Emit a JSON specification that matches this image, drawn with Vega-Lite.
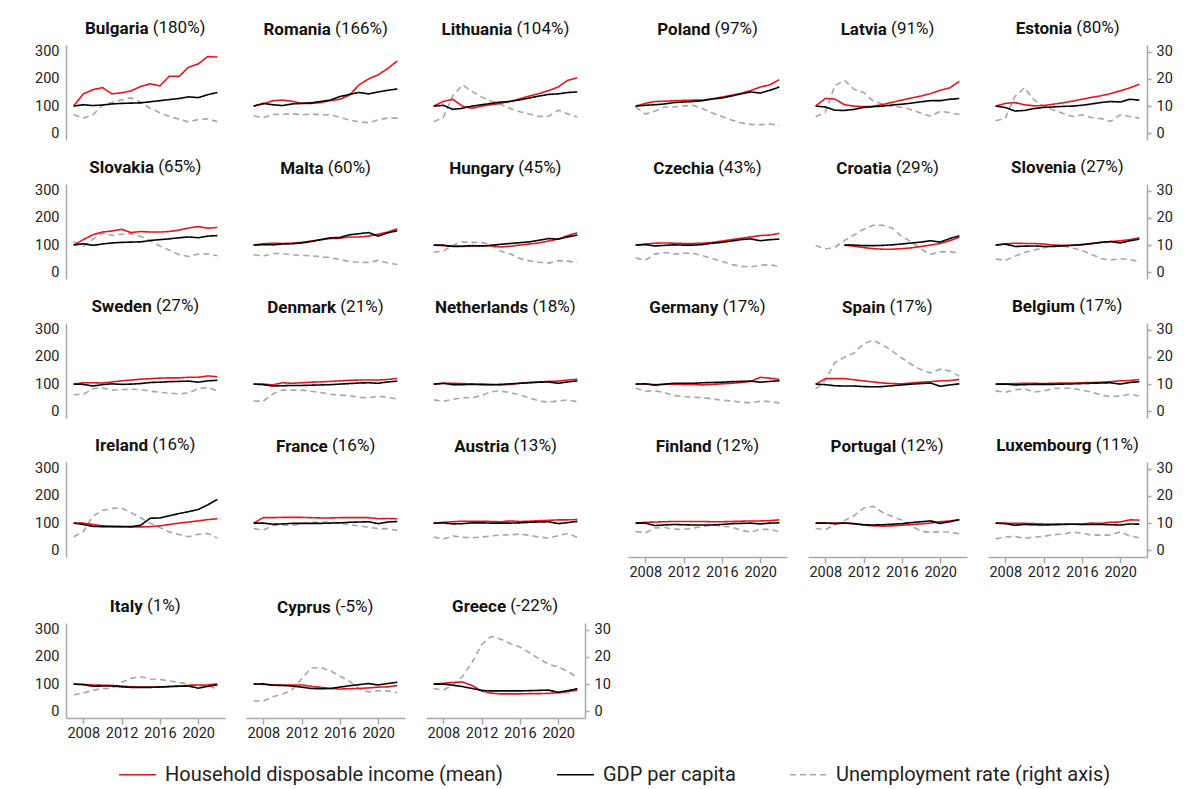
{
"background":"white",
"padding":{"left":34,"top":18,"right":5,"bottom":2},
"data":{"values":[
{"c":"BG","y":2007,"i":100,"g":100,"u":6.9},{"c":"BG","y":2008,"i":145,"g":105,"u":5.6},{"c":"BG","y":2009,"i":160,"g":102,"u":6.8},{"c":"BG","y":2010,"i":168,"g":104,"u":10.3},{"c":"BG","y":2011,"i":145,"g":108,"u":11.3},{"c":"BG","y":2012,"i":149,"g":110,"u":12.3},{"c":"BG","y":2013,"i":156,"g":111,"u":13.0},{"c":"BG","y":2014,"i":172,"g":112,"u":11.4},{"c":"BG","y":2015,"i":182,"g":116,"u":9.2},{"c":"BG","y":2016,"i":174,"g":120,"u":7.6},{"c":"BG","y":2017,"i":210,"g":124,"u":6.2},{"c":"BG","y":2018,"i":209,"g":128,"u":5.2},{"c":"BG","y":2019,"i":243,"g":134,"u":4.2},{"c":"BG","y":2020,"i":255,"g":131,"u":5.1},{"c":"BG","y":2021,"i":282,"g":142,"u":5.3},{"c":"BG","y":2022,"i":280,"g":150,"u":4.3},
{"c":"RO","y":2007,"i":100,"g":100,"u":6.4},{"c":"RO","y":2008,"i":108,"g":110,"u":5.8},{"c":"RO","y":2009,"i":120,"g":105,"u":6.9},{"c":"RO","y":2010,"i":122,"g":102,"u":7.0},{"c":"RO","y":2011,"i":118,"g":108,"u":7.2},{"c":"RO","y":2012,"i":110,"g":110,"u":6.8},{"c":"RO","y":2013,"i":110,"g":112,"u":7.1},{"c":"RO","y":2014,"i":113,"g":117,"u":6.8},{"c":"RO","y":2015,"i":120,"g":122,"u":6.8},{"c":"RO","y":2016,"i":125,"g":135,"u":5.9},{"c":"RO","y":2017,"i":140,"g":143,"u":4.9},{"c":"RO","y":2018,"i":178,"g":150,"u":4.2},{"c":"RO","y":2019,"i":200,"g":145,"u":3.9},{"c":"RO","y":2020,"i":215,"g":152,"u":5.0},{"c":"RO","y":2021,"i":238,"g":158,"u":5.6},{"c":"RO","y":2022,"i":266,"g":163,"u":5.6},
{"c":"LT","y":2007,"i":100,"g":100,"u":4.3},{"c":"LT","y":2008,"i":117,"g":103,"u":5.8},{"c":"LT","y":2009,"i":125,"g":88,"u":13.8},{"c":"LT","y":2010,"i":100,"g":92,"u":17.8},{"c":"LT","y":2011,"i":92,"g":100,"u":15.4},{"c":"LT","y":2012,"i":100,"g":105,"u":13.4},{"c":"LT","y":2013,"i":105,"g":110,"u":11.8},{"c":"LT","y":2014,"i":110,"g":115,"u":10.7},{"c":"LT","y":2015,"i":118,"g":117,"u":9.1},{"c":"LT","y":2016,"i":127,"g":123,"u":7.9},{"c":"LT","y":2017,"i":137,"g":130,"u":7.1},{"c":"LT","y":2018,"i":146,"g":137,"u":6.2},{"c":"LT","y":2019,"i":157,"g":143,"u":6.3},{"c":"LT","y":2020,"i":170,"g":145,"u":8.5},{"c":"LT","y":2021,"i":195,"g":150,"u":7.1},{"c":"LT","y":2022,"i":204,"g":152,"u":6.0},
{"c":"PL","y":2007,"i":100,"g":100,"u":9.6},{"c":"PL","y":2008,"i":110,"g":103,"u":7.1},{"c":"PL","y":2009,"i":117,"g":105,"u":8.1},{"c":"PL","y":2010,"i":118,"g":108,"u":9.7},{"c":"PL","y":2011,"i":120,"g":113,"u":9.7},{"c":"PL","y":2012,"i":121,"g":115,"u":10.1},{"c":"PL","y":2013,"i":122,"g":117,"u":10.3},{"c":"PL","y":2014,"i":122,"g":120,"u":9.0},{"c":"PL","y":2015,"i":127,"g":126,"u":7.5},{"c":"PL","y":2016,"i":133,"g":130,"u":6.2},{"c":"PL","y":2017,"i":140,"g":137,"u":4.9},{"c":"PL","y":2018,"i":147,"g":145,"u":3.9},{"c":"PL","y":2019,"i":157,"g":152,"u":3.3},{"c":"PL","y":2020,"i":170,"g":148,"u":3.2},{"c":"PL","y":2021,"i":178,"g":158,"u":3.4},{"c":"PL","y":2022,"i":197,"g":170,"u":2.9},
{"c":"LV","y":2007,"i":100,"g":100,"u":6.1},{"c":"LV","y":2008,"i":128,"g":97,"u":7.7},{"c":"LV","y":2009,"i":126,"g":85,"u":17.5},{"c":"LV","y":2010,"i":105,"g":84,"u":19.5},{"c":"LV","y":2011,"i":100,"g":88,"u":16.2},{"c":"LV","y":2012,"i":98,"g":95,"u":15.0},{"c":"LV","y":2013,"i":99,"g":98,"u":11.9},{"c":"LV","y":2014,"i":106,"g":100,"u":10.8},{"c":"LV","y":2015,"i":114,"g":104,"u":9.9},{"c":"LV","y":2016,"i":122,"g":107,"u":9.6},{"c":"LV","y":2017,"i":130,"g":111,"u":8.7},{"c":"LV","y":2018,"i":137,"g":116,"u":7.4},{"c":"LV","y":2019,"i":146,"g":120,"u":6.3},{"c":"LV","y":2020,"i":158,"g":120,"u":8.1},{"c":"LV","y":2021,"i":167,"g":125,"u":7.6},{"c":"LV","y":2022,"i":191,"g":128,"u":6.9},
{"c":"EE","y":2007,"i":100,"g":100,"u":4.6},{"c":"EE","y":2008,"i":110,"g":95,"u":5.5},{"c":"EE","y":2009,"i":113,"g":82,"u":13.5},{"c":"EE","y":2010,"i":105,"g":84,"u":16.7},{"c":"EE","y":2011,"i":101,"g":91,"u":12.3},{"c":"EE","y":2012,"i":102,"g":95,"u":10.0},{"c":"EE","y":2013,"i":107,"g":97,"u":8.6},{"c":"EE","y":2014,"i":112,"g":99,"u":7.4},{"c":"EE","y":2015,"i":118,"g":100,"u":6.2},{"c":"EE","y":2016,"i":125,"g":103,"u":6.8},{"c":"EE","y":2017,"i":132,"g":108,"u":5.8},{"c":"EE","y":2018,"i":138,"g":113,"u":5.4},{"c":"EE","y":2019,"i":146,"g":117,"u":4.4},{"c":"EE","y":2020,"i":156,"g":115,"u":6.8},{"c":"EE","y":2021,"i":167,"g":125,"u":6.2},{"c":"EE","y":2022,"i":180,"g":122,"u":5.6},
{"c":"SK","y":2007,"i":100,"g":100,"u":11.2},{"c":"SK","y":2008,"i":120,"g":105,"u":9.6},{"c":"SK","y":2009,"i":138,"g":99,"u":12.1},{"c":"SK","y":2010,"i":148,"g":104,"u":14.4},{"c":"SK","y":2011,"i":152,"g":108,"u":13.6},{"c":"SK","y":2012,"i":158,"g":110,"u":14.0},{"c":"SK","y":2013,"i":146,"g":111,"u":14.2},{"c":"SK","y":2014,"i":150,"g":112,"u":13.2},{"c":"SK","y":2015,"i":148,"g":117,"u":11.5},{"c":"SK","y":2016,"i":148,"g":120,"u":9.7},{"c":"SK","y":2017,"i":150,"g":123,"u":8.1},{"c":"SK","y":2018,"i":155,"g":127,"u":6.5},{"c":"SK","y":2019,"i":163,"g":130,"u":5.8},{"c":"SK","y":2020,"i":168,"g":127,"u":6.7},{"c":"SK","y":2021,"i":162,"g":133,"u":6.8},{"c":"SK","y":2022,"i":165,"g":135,"u":6.1},
{"c":"MT","y":2007,"i":100,"g":100,"u":6.5},{"c":"MT","y":2008,"i":105,"g":102,"u":6.0},{"c":"MT","y":2009,"i":107,"g":101,"u":6.9},{"c":"MT","y":2010,"i":106,"g":104,"u":6.9},{"c":"MT","y":2011,"i":107,"g":105,"u":6.4},{"c":"MT","y":2012,"i":110,"g":108,"u":6.2},{"c":"MT","y":2013,"i":115,"g":113,"u":6.1},{"c":"MT","y":2014,"i":120,"g":120,"u":5.7},{"c":"MT","y":2015,"i":124,"g":127,"u":5.4},{"c":"MT","y":2016,"i":125,"g":128,"u":4.7},{"c":"MT","y":2017,"i":130,"g":138,"u":4.0},{"c":"MT","y":2018,"i":130,"g":142,"u":3.7},{"c":"MT","y":2019,"i":133,"g":146,"u":3.6},{"c":"MT","y":2020,"i":140,"g":133,"u":4.4},{"c":"MT","y":2021,"i":148,"g":145,"u":3.4},{"c":"MT","y":2022,"i":160,"g":153,"u":2.9},
{"c":"HU","y":2007,"i":100,"g":100,"u":7.4},{"c":"HU","y":2008,"i":98,"g":100,"u":7.8},{"c":"HU","y":2009,"i":96,"g":95,"u":10.0},{"c":"HU","y":2010,"i":95,"g":96,"u":11.2},{"c":"HU","y":2011,"i":97,"g":98,"u":11.0},{"c":"HU","y":2012,"i":97,"g":97,"u":11.0},{"c":"HU","y":2013,"i":98,"g":99,"u":10.2},{"c":"HU","y":2014,"i":93,"g":103,"u":7.7},{"c":"HU","y":2015,"i":96,"g":106,"u":6.8},{"c":"HU","y":2016,"i":100,"g":109,"u":5.1},{"c":"HU","y":2017,"i":104,"g":112,"u":4.2},{"c":"HU","y":2018,"i":108,"g":118,"u":3.7},{"c":"HU","y":2019,"i":115,"g":124,"u":3.4},{"c":"HU","y":2020,"i":122,"g":122,"u":4.3},{"c":"HU","y":2021,"i":135,"g":130,"u":4.1},{"c":"HU","y":2022,"i":145,"g":137,"u":3.6},
{"c":"CZ","y":2007,"i":100,"g":100,"u":5.3},{"c":"CZ","y":2008,"i":104,"g":102,"u":4.4},{"c":"CZ","y":2009,"i":107,"g":97,"u":6.7},{"c":"CZ","y":2010,"i":108,"g":99,"u":7.3},{"c":"CZ","y":2011,"i":107,"g":101,"u":6.7},{"c":"CZ","y":2012,"i":106,"g":100,"u":7.0},{"c":"CZ","y":2013,"i":106,"g":100,"u":7.0},{"c":"CZ","y":2014,"i":107,"g":102,"u":6.1},{"c":"CZ","y":2015,"i":110,"g":107,"u":5.1},{"c":"CZ","y":2016,"i":115,"g":110,"u":4.0},{"c":"CZ","y":2017,"i":120,"g":115,"u":2.9},{"c":"CZ","y":2018,"i":125,"g":120,"u":2.2},{"c":"CZ","y":2019,"i":130,"g":123,"u":2.0},{"c":"CZ","y":2020,"i":135,"g":116,"u":2.6},{"c":"CZ","y":2021,"i":137,"g":120,"u":2.8},{"c":"CZ","y":2022,"i":143,"g":122,"u":2.2},
{"c":"HR","y":2007,"i":null,"g":null,"u":9.9},{"c":"HR","y":2008,"i":null,"g":null,"u":8.6},{"c":"HR","y":2009,"i":null,"g":null,"u":9.2},{"c":"HR","y":2010,"i":100,"g":100,"u":11.7},{"c":"HR","y":2011,"i":96,"g":100,"u":13.7},{"c":"HR","y":2012,"i":91,"g":98,"u":15.8},{"c":"HR","y":2013,"i":87,"g":98,"u":17.3},{"c":"HR","y":2014,"i":85,"g":99,"u":17.3},{"c":"HR","y":2015,"i":85,"g":101,"u":16.2},{"c":"HR","y":2016,"i":87,"g":104,"u":13.1},{"c":"HR","y":2017,"i":90,"g":108,"u":11.2},{"c":"HR","y":2018,"i":95,"g":111,"u":8.5},{"c":"HR","y":2019,"i":100,"g":116,"u":6.6},{"c":"HR","y":2020,"i":106,"g":111,"u":7.5},{"c":"HR","y":2021,"i":116,"g":124,"u":7.6},{"c":"HR","y":2022,"i":129,"g":134,"u":7.0},
{"c":"SI","y":2007,"i":100,"g":100,"u":4.9},{"c":"SI","y":2008,"i":104,"g":104,"u":4.4},{"c":"SI","y":2009,"i":107,"g":95,"u":5.9},{"c":"SI","y":2010,"i":106,"g":96,"u":7.3},{"c":"SI","y":2011,"i":106,"g":97,"u":8.2},{"c":"SI","y":2012,"i":104,"g":95,"u":8.9},{"c":"SI","y":2013,"i":100,"g":95,"u":10.1},{"c":"SI","y":2014,"i":99,"g":97,"u":9.7},{"c":"SI","y":2015,"i":100,"g":99,"u":9.0},{"c":"SI","y":2016,"i":101,"g":102,"u":8.0},{"c":"SI","y":2017,"i":105,"g":106,"u":6.6},{"c":"SI","y":2018,"i":110,"g":110,"u":5.1},{"c":"SI","y":2019,"i":113,"g":113,"u":4.5},{"c":"SI","y":2020,"i":116,"g":108,"u":5.0},{"c":"SI","y":2021,"i":120,"g":116,"u":4.7},{"c":"SI","y":2022,"i":127,"g":122,"u":4.0},
{"c":"SE","y":2007,"i":100,"g":100,"u":6.1},{"c":"SE","y":2008,"i":105,"g":99,"u":6.2},{"c":"SE","y":2009,"i":105,"g":93,"u":8.3},{"c":"SE","y":2010,"i":104,"g":98,"u":8.6},{"c":"SE","y":2011,"i":108,"g":101,"u":7.8},{"c":"SE","y":2012,"i":112,"g":99,"u":8.0},{"c":"SE","y":2013,"i":115,"g":100,"u":8.1},{"c":"SE","y":2014,"i":118,"g":102,"u":8.0},{"c":"SE","y":2015,"i":120,"g":106,"u":7.4},{"c":"SE","y":2016,"i":122,"g":107,"u":7.0},{"c":"SE","y":2017,"i":123,"g":109,"u":6.7},{"c":"SE","y":2018,"i":123,"g":110,"u":6.4},{"c":"SE","y":2019,"i":125,"g":111,"u":6.8},{"c":"SE","y":2020,"i":125,"g":107,"u":8.3},{"c":"SE","y":2021,"i":130,"g":112,"u":8.8},{"c":"SE","y":2022,"i":127,"g":114,"u":7.5},
{"c":"DK","y":2007,"i":100,"g":100,"u":3.8},{"c":"DK","y":2008,"i":100,"g":98,"u":3.7},{"c":"DK","y":2009,"i":97,"g":93,"u":6.4},{"c":"DK","y":2010,"i":105,"g":94,"u":7.8},{"c":"DK","y":2011,"i":103,"g":95,"u":7.8},{"c":"DK","y":2012,"i":105,"g":95,"u":7.8},{"c":"DK","y":2013,"i":107,"g":96,"u":7.4},{"c":"DK","y":2014,"i":108,"g":97,"u":6.9},{"c":"DK","y":2015,"i":110,"g":98,"u":6.3},{"c":"DK","y":2016,"i":112,"g":100,"u":6.0},{"c":"DK","y":2017,"i":114,"g":102,"u":5.8},{"c":"DK","y":2018,"i":115,"g":104,"u":5.1},{"c":"DK","y":2019,"i":115,"g":105,"u":5.0},{"c":"DK","y":2020,"i":115,"g":103,"u":5.6},{"c":"DK","y":2021,"i":117,"g":108,"u":5.1},{"c":"DK","y":2022,"i":121,"g":111,"u":4.5},
{"c":"NL","y":2007,"i":100,"g":100,"u":4.2},{"c":"NL","y":2008,"i":103,"g":103,"u":3.7},{"c":"NL","y":2009,"i":103,"g":98,"u":4.4},{"c":"NL","y":2010,"i":102,"g":98,"u":5.0},{"c":"NL","y":2011,"i":101,"g":99,"u":5.0},{"c":"NL","y":2012,"i":100,"g":98,"u":5.8},{"c":"NL","y":2013,"i":98,"g":98,"u":7.3},{"c":"NL","y":2014,"i":97,"g":99,"u":7.4},{"c":"NL","y":2015,"i":99,"g":101,"u":6.9},{"c":"NL","y":2016,"i":103,"g":103,"u":6.0},{"c":"NL","y":2017,"i":106,"g":105,"u":4.9},{"c":"NL","y":2018,"i":108,"g":107,"u":3.8},{"c":"NL","y":2019,"i":110,"g":108,"u":3.4},{"c":"NL","y":2020,"i":111,"g":103,"u":3.8},{"c":"NL","y":2021,"i":115,"g":108,"u":4.2},{"c":"NL","y":2022,"i":118,"g":112,"u":3.5},
{"c":"DE","y":2007,"i":100,"g":100,"u":8.5},{"c":"DE","y":2008,"i":101,"g":101,"u":7.4},{"c":"DE","y":2009,"i":98,"g":96,"u":7.6},{"c":"DE","y":2010,"i":99,"g":100,"u":6.9},{"c":"DE","y":2011,"i":100,"g":103,"u":5.8},{"c":"DE","y":2012,"i":99,"g":103,"u":5.4},{"c":"DE","y":2013,"i":99,"g":103,"u":5.2},{"c":"DE","y":2014,"i":97,"g":105,"u":5.0},{"c":"DE","y":2015,"i":99,"g":106,"u":4.6},{"c":"DE","y":2016,"i":101,"g":107,"u":4.1},{"c":"DE","y":2017,"i":103,"g":109,"u":3.8},{"c":"DE","y":2018,"i":106,"g":110,"u":3.4},{"c":"DE","y":2019,"i":110,"g":111,"u":3.1},{"c":"DE","y":2020,"i":125,"g":107,"u":3.7},{"c":"DE","y":2021,"i":122,"g":110,"u":3.6},{"c":"DE","y":2022,"i":117,"g":112,"u":3.1},
{"c":"ES","y":2007,"i":100,"g":100,"u":8.2},{"c":"ES","y":2008,"i":120,"g":98,"u":11.3},{"c":"ES","y":2009,"i":120,"g":94,"u":17.9},{"c":"ES","y":2010,"i":120,"g":93,"u":19.9},{"c":"ES","y":2011,"i":116,"g":93,"u":21.4},{"c":"ES","y":2012,"i":112,"g":91,"u":24.8},{"c":"ES","y":2013,"i":108,"g":90,"u":26.1},{"c":"ES","y":2014,"i":104,"g":91,"u":24.4},{"c":"ES","y":2015,"i":102,"g":94,"u":22.1},{"c":"ES","y":2016,"i":101,"g":97,"u":19.6},{"c":"ES","y":2017,"i":104,"g":100,"u":17.2},{"c":"ES","y":2018,"i":107,"g":102,"u":15.3},{"c":"ES","y":2019,"i":109,"g":104,"u":14.1},{"c":"ES","y":2020,"i":112,"g":92,"u":15.5},{"c":"ES","y":2021,"i":113,"g":97,"u":14.8},{"c":"ES","y":2022,"i":117,"g":101,"u":12.9},
{"c":"BE","y":2007,"i":100,"g":100,"u":7.5},{"c":"BE","y":2008,"i":101,"g":100,"u":7.0},{"c":"BE","y":2009,"i":102,"g":97,"u":7.9},{"c":"BE","y":2010,"i":103,"g":98,"u":8.3},{"c":"BE","y":2011,"i":103,"g":99,"u":7.1},{"c":"BE","y":2012,"i":102,"g":99,"u":7.5},{"c":"BE","y":2013,"i":103,"g":99,"u":8.4},{"c":"BE","y":2014,"i":104,"g":100,"u":8.5},{"c":"BE","y":2015,"i":104,"g":101,"u":8.5},{"c":"BE","y":2016,"i":105,"g":102,"u":7.8},{"c":"BE","y":2017,"i":106,"g":103,"u":7.1},{"c":"BE","y":2018,"i":107,"g":104,"u":6.0},{"c":"BE","y":2019,"i":109,"g":105,"u":5.4},{"c":"BE","y":2020,"i":112,"g":100,"u":5.6},{"c":"BE","y":2021,"i":113,"g":106,"u":6.3},{"c":"BE","y":2022,"i":117,"g":109,"u":5.6},
{"c":"IE","y":2007,"i":100,"g":100,"u":5.0},{"c":"IE","y":2008,"i":100,"g":95,"u":6.8},{"c":"IE","y":2009,"i":95,"g":88,"u":12.6},{"c":"IE","y":2010,"i":90,"g":87,"u":14.6},{"c":"IE","y":2011,"i":88,"g":87,"u":15.4},{"c":"IE","y":2012,"i":87,"g":87,"u":15.5},{"c":"IE","y":2013,"i":86,"g":87,"u":13.8},{"c":"IE","y":2014,"i":86,"g":92,"u":11.9},{"c":"IE","y":2015,"i":87,"g":118,"u":10.0},{"c":"IE","y":2016,"i":90,"g":119,"u":8.4},{"c":"IE","y":2017,"i":95,"g":127,"u":6.7},{"c":"IE","y":2018,"i":100,"g":135,"u":5.8},{"c":"IE","y":2019,"i":104,"g":142,"u":5.0},{"c":"IE","y":2020,"i":108,"g":150,"u":5.9},{"c":"IE","y":2021,"i":113,"g":167,"u":6.2},{"c":"IE","y":2022,"i":116,"g":187,"u":4.5},
{"c":"FR","y":2007,"i":100,"g":100,"u":8.0},{"c":"FR","y":2008,"i":120,"g":100,"u":7.4},{"c":"FR","y":2009,"i":120,"g":96,"u":9.1},{"c":"FR","y":2010,"i":121,"g":97,"u":9.3},{"c":"FR","y":2011,"i":121,"g":99,"u":9.2},{"c":"FR","y":2012,"i":121,"g":99,"u":9.8},{"c":"FR","y":2013,"i":120,"g":99,"u":10.3},{"c":"FR","y":2014,"i":119,"g":99,"u":10.3},{"c":"FR","y":2015,"i":119,"g":100,"u":10.4},{"c":"FR","y":2016,"i":120,"g":101,"u":10.0},{"c":"FR","y":2017,"i":120,"g":103,"u":9.4},{"c":"FR","y":2018,"i":120,"g":104,"u":9.0},{"c":"FR","y":2019,"i":120,"g":105,"u":8.4},{"c":"FR","y":2020,"i":116,"g":98,"u":8.0},{"c":"FR","y":2021,"i":117,"g":104,"u":7.9},{"c":"FR","y":2022,"i":116,"g":106,"u":7.3},
{"c":"AT","y":2007,"i":100,"g":100,"u":4.9},{"c":"AT","y":2008,"i":103,"g":101,"u":4.1},{"c":"AT","y":2009,"i":105,"g":97,"u":5.3},{"c":"AT","y":2010,"i":107,"g":98,"u":4.8},{"c":"AT","y":2011,"i":107,"g":101,"u":4.6},{"c":"AT","y":2012,"i":107,"g":101,"u":4.9},{"c":"AT","y":2013,"i":106,"g":100,"u":5.3},{"c":"AT","y":2014,"i":105,"g":100,"u":5.6},{"c":"AT","y":2015,"i":108,"g":100,"u":5.7},{"c":"AT","y":2016,"i":106,"g":101,"u":6.0},{"c":"AT","y":2017,"i":107,"g":103,"u":5.5},{"c":"AT","y":2018,"i":109,"g":104,"u":4.9},{"c":"AT","y":2019,"i":110,"g":105,"u":4.5},{"c":"AT","y":2020,"i":112,"g":98,"u":5.4},{"c":"AT","y":2021,"i":112,"g":102,"u":6.2},{"c":"AT","y":2022,"i":113,"g":106,"u":4.8},
{"c":"FI","y":2007,"i":100,"g":100,"u":6.9},{"c":"FI","y":2008,"i":103,"g":100,"u":6.4},{"c":"FI","y":2009,"i":104,"g":91,"u":8.2},{"c":"FI","y":2010,"i":105,"g":93,"u":8.4},{"c":"FI","y":2011,"i":106,"g":95,"u":7.8},{"c":"FI","y":2012,"i":106,"g":94,"u":7.7},{"c":"FI","y":2013,"i":106,"g":93,"u":8.2},{"c":"FI","y":2014,"i":106,"g":93,"u":8.7},{"c":"FI","y":2015,"i":105,"g":93,"u":9.4},{"c":"FI","y":2016,"i":105,"g":95,"u":8.8},{"c":"FI","y":2017,"i":106,"g":98,"u":8.6},{"c":"FI","y":2018,"i":107,"g":99,"u":7.4},{"c":"FI","y":2019,"i":108,"g":100,"u":6.7},{"c":"FI","y":2020,"i":108,"g":97,"u":7.7},{"c":"FI","y":2021,"i":109,"g":100,"u":7.7},{"c":"FI","y":2022,"i":112,"g":101,"u":6.8},
{"c":"PT","y":2007,"i":100,"g":100,"u":8.0},{"c":"PT","y":2008,"i":100,"g":100,"u":7.6},{"c":"PT","y":2009,"i":100,"g":98,"u":9.4},{"c":"PT","y":2010,"i":101,"g":100,"u":11.0},{"c":"PT","y":2011,"i":98,"g":98,"u":12.7},{"c":"PT","y":2012,"i":93,"g":94,"u":15.5},{"c":"PT","y":2013,"i":90,"g":93,"u":16.2},{"c":"PT","y":2014,"i":89,"g":94,"u":13.9},{"c":"PT","y":2015,"i":90,"g":96,"u":12.4},{"c":"PT","y":2016,"i":92,"g":98,"u":11.1},{"c":"PT","y":2017,"i":95,"g":102,"u":8.9},{"c":"PT","y":2018,"i":97,"g":105,"u":7.1},{"c":"PT","y":2019,"i":100,"g":108,"u":6.5},{"c":"PT","y":2020,"i":105,"g":99,"u":6.9},{"c":"PT","y":2021,"i":108,"g":105,"u":6.6},{"c":"PT","y":2022,"i":112,"g":113,"u":6.1},
{"c":"LU","y":2007,"i":100,"g":100,"u":4.2},{"c":"LU","y":2008,"i":100,"g":98,"u":4.9},{"c":"LU","y":2009,"i":99,"g":92,"u":5.1},{"c":"LU","y":2010,"i":99,"g":95,"u":4.4},{"c":"LU","y":2011,"i":98,"g":94,"u":4.9},{"c":"LU","y":2012,"i":97,"g":93,"u":5.1},{"c":"LU","y":2013,"i":97,"g":94,"u":5.8},{"c":"LU","y":2014,"i":96,"g":95,"u":5.9},{"c":"LU","y":2015,"i":97,"g":96,"u":6.7},{"c":"LU","y":2016,"i":97,"g":95,"u":6.3},{"c":"LU","y":2017,"i":100,"g":95,"u":5.6},{"c":"LU","y":2018,"i":99,"g":95,"u":5.6},{"c":"LU","y":2019,"i":103,"g":94,"u":5.6},{"c":"LU","y":2020,"i":104,"g":93,"u":6.8},{"c":"LU","y":2021,"i":112,"g":97,"u":5.3},{"c":"LU","y":2022,"i":111,"g":96,"u":4.6},
{"c":"IT","y":2007,"i":100,"g":100,"u":6.1},{"c":"IT","y":2008,"i":99,"g":98,"u":6.7},{"c":"IT","y":2009,"i":97,"g":92,"u":7.7},{"c":"IT","y":2010,"i":96,"g":93,"u":8.4},{"c":"IT","y":2011,"i":95,"g":93,"u":8.4},{"c":"IT","y":2012,"i":93,"g":90,"u":10.7},{"c":"IT","y":2013,"i":90,"g":88,"u":12.1},{"c":"IT","y":2014,"i":89,"g":88,"u":12.7},{"c":"IT","y":2015,"i":89,"g":88,"u":11.9},{"c":"IT","y":2016,"i":90,"g":89,"u":11.7},{"c":"IT","y":2017,"i":91,"g":91,"u":11.2},{"c":"IT","y":2018,"i":93,"g":92,"u":10.6},{"c":"IT","y":2019,"i":95,"g":93,"u":10.0},{"c":"IT","y":2020,"i":97,"g":85,"u":9.3},{"c":"IT","y":2021,"i":97,"g":92,"u":9.5},{"c":"IT","y":2022,"i":101,"g":97,"u":8.1},
{"c":"CY","y":2007,"i":100,"g":100,"u":3.9},{"c":"CY","y":2008,"i":99,"g":101,"u":3.7},{"c":"CY","y":2009,"i":97,"g":96,"u":5.4},{"c":"CY","y":2010,"i":97,"g":95,"u":6.3},{"c":"CY","y":2011,"i":97,"g":93,"u":7.9},{"c":"CY","y":2012,"i":97,"g":89,"u":11.9},{"c":"CY","y":2013,"i":92,"g":84,"u":15.9},{"c":"CY","y":2014,"i":88,"g":83,"u":16.1},{"c":"CY","y":2015,"i":84,"g":84,"u":14.9},{"c":"CY","y":2016,"i":82,"g":89,"u":13.0},{"c":"CY","y":2017,"i":83,"g":94,"u":11.1},{"c":"CY","y":2018,"i":84,"g":98,"u":8.4},{"c":"CY","y":2019,"i":86,"g":102,"u":7.1},{"c":"CY","y":2020,"i":89,"g":97,"u":7.6},{"c":"CY","y":2021,"i":90,"g":102,"u":7.5},{"c":"CY","y":2022,"i":95,"g":107,"u":6.8},
{"c":"GR","y":2007,"i":100,"g":100,"u":8.4},{"c":"GR","y":2008,"i":103,"g":100,"u":7.8},{"c":"GR","y":2009,"i":106,"g":96,"u":9.6},{"c":"GR","y":2010,"i":108,"g":91,"u":12.7},{"c":"GR","y":2011,"i":95,"g":84,"u":17.9},{"c":"GR","y":2012,"i":75,"g":77,"u":24.5},{"c":"GR","y":2013,"i":67,"g":75,"u":27.5},{"c":"GR","y":2014,"i":64,"g":75,"u":26.5},{"c":"GR","y":2015,"i":64,"g":75,"u":24.9},{"c":"GR","y":2016,"i":64,"g":75,"u":23.6},{"c":"GR","y":2017,"i":65,"g":76,"u":21.5},{"c":"GR","y":2018,"i":65,"g":77,"u":19.3},{"c":"GR","y":2019,"i":66,"g":78,"u":17.3},{"c":"GR","y":2020,"i":68,"g":70,"u":16.3},{"c":"GR","y":2021,"i":72,"g":76,"u":14.7},{"c":"GR","y":2022,"i":78,"g":83,"u":12.4}
]},
"spacing":17,
"vconcat":[
{"spacing":43,"hconcat":[
 {"spacing":21,"hconcat":[
  {"title":{"text":"(180%)","anchor":"middle","fontWeight":"normal","align":"left","frame":"bounds","offset":-17,"dx":22.9},"vconcat":[{"title":{"text":"Bulgaria","align":"right","dx":3},"transform":[{"filter":"datum.c=='BG'"},{"fold":["i","g","u"],"as":["s","v"]}],"encoding":{"x":{"field":"y","type":"quantitative","title":null,"scale":{"domain":[2006.2,2022.8],"nice":false,"zero":false},"axis":null},"color":{"field":"s","type":"nominal","title":null,"scale":{"domain":["i","g","u"],"range":["#e8141c","#000000","#a6a6a6"]},"legend":{"orient":"none","legendX":52,"legendY":710,"labelExpr":"datum.label=='i'?'Household disposable income (mean)':datum.label=='g'?'GDP per capita':'Unemployment rate (right axis)'"}},"strokeDash":{"field":"s","type":"nominal","title":null,"scale":{"domain":["i","g","u"],"range":[[1,0],[1,0],[6,4]]},"legend":{"orient":"none","legendX":52,"legendY":710,"labelExpr":"datum.label=='i'?'Household disposable income (mean)':datum.label=='g'?'GDP per capita':'Unemployment rate (right axis)'"}}},"layer":[{"transform":[{"filter":"datum.s=='u'"}],"mark":"line","encoding":{"y":{"field":"v","type":"quantitative","title":null,"scale":{"domain":[-2.45,32.45],"nice":false,"zero":false},"axis":null}}},{"transform":[{"filter":"datum.s!='u'"}],"mark":"line","encoding":{"y":{"field":"v","type":"quantitative","title":null,"scale":{"domain":[-24.5,324.5],"nice":false,"zero":false},"axis":{"orient":"left","values":[0,100,200,300],"ticks":false,"labelPadding":7}}}}],"resolve":{"scale":{"y":"independent"}}}]},
  {"title":{"text":"(166%)","anchor":"middle","fontWeight":"normal","align":"left","frame":"bounds","offset":-17,"dx":9.6},"vconcat":[{"title":{"text":"Romania","align":"right","dx":5.4},"transform":[{"filter":"datum.c=='RO'"},{"fold":["i","g","u"],"as":["s","v"]}],"encoding":{"x":{"field":"y","type":"quantitative","title":null,"scale":{"domain":[2006.2,2022.8],"nice":false,"zero":false},"axis":null},"color":{"field":"s","type":"nominal","title":null,"scale":{"domain":["i","g","u"],"range":["#e8141c","#000000","#a6a6a6"]},"legend":{"orient":"none","legendX":52,"legendY":710,"labelExpr":"datum.label=='i'?'Household disposable income (mean)':datum.label=='g'?'GDP per capita':'Unemployment rate (right axis)'"}},"strokeDash":{"field":"s","type":"nominal","title":null,"scale":{"domain":["i","g","u"],"range":[[1,0],[1,0],[6,4]]},"legend":{"orient":"none","legendX":52,"legendY":710,"labelExpr":"datum.label=='i'?'Household disposable income (mean)':datum.label=='g'?'GDP per capita':'Unemployment rate (right axis)'"}}},"layer":[{"transform":[{"filter":"datum.s=='u'"}],"mark":"line","encoding":{"y":{"field":"v","type":"quantitative","title":null,"scale":{"domain":[-2.45,32.45],"nice":false,"zero":false},"axis":null}}},{"transform":[{"filter":"datum.s!='u'"}],"mark":"line","encoding":{"y":{"field":"v","type":"quantitative","title":null,"scale":{"domain":[-24.5,324.5],"nice":false,"zero":false},"axis":{"orient":"left","values":[0,100,200,300],"labels":false,"domain":false,"ticks":false}}}}],"resolve":{"scale":{"y":"independent"}}}]},
  {"title":{"text":"(104%)","anchor":"middle","fontWeight":"normal","align":"left","frame":"bounds","offset":-17,"dx":11.0},"vconcat":[{"title":{"text":"Lithuania","align":"right","dx":6.8},"transform":[{"filter":"datum.c=='LT'"},{"fold":["i","g","u"],"as":["s","v"]}],"encoding":{"x":{"field":"y","type":"quantitative","title":null,"scale":{"domain":[2006.2,2022.8],"nice":false,"zero":false},"axis":null},"color":{"field":"s","type":"nominal","title":null,"scale":{"domain":["i","g","u"],"range":["#e8141c","#000000","#a6a6a6"]},"legend":{"orient":"none","legendX":52,"legendY":710,"labelExpr":"datum.label=='i'?'Household disposable income (mean)':datum.label=='g'?'GDP per capita':'Unemployment rate (right axis)'"}},"strokeDash":{"field":"s","type":"nominal","title":null,"scale":{"domain":["i","g","u"],"range":[[1,0],[1,0],[6,4]]},"legend":{"orient":"none","legendX":52,"legendY":710,"labelExpr":"datum.label=='i'?'Household disposable income (mean)':datum.label=='g'?'GDP per capita':'Unemployment rate (right axis)'"}}},"layer":[{"transform":[{"filter":"datum.s=='u'"}],"mark":"line","encoding":{"y":{"field":"v","type":"quantitative","title":null,"scale":{"domain":[-2.45,32.45],"nice":false,"zero":false},"axis":null}}},{"transform":[{"filter":"datum.s!='u'"}],"mark":"line","encoding":{"y":{"field":"v","type":"quantitative","title":null,"scale":{"domain":[-24.5,324.5],"nice":false,"zero":false},"axis":{"orient":"left","values":[0,100,200,300],"labels":false,"domain":false,"ticks":false}}}}],"resolve":{"scale":{"y":"independent"}}}]}
 ]},
 {"spacing":21,"hconcat":[
  {"title":{"text":"(97%)","anchor":"middle","fontWeight":"normal","align":"left","frame":"bounds","offset":-17,"dx":7.1},"vconcat":[{"title":{"text":"Poland","align":"right","dx":2.9},"transform":[{"filter":"datum.c=='PL'"},{"fold":["i","g","u"],"as":["s","v"]}],"encoding":{"x":{"field":"y","type":"quantitative","title":null,"scale":{"domain":[2006.2,2022.8],"nice":false,"zero":false},"axis":null},"color":{"field":"s","type":"nominal","title":null,"scale":{"domain":["i","g","u"],"range":["#e8141c","#000000","#a6a6a6"]},"legend":{"orient":"none","legendX":52,"legendY":710,"labelExpr":"datum.label=='i'?'Household disposable income (mean)':datum.label=='g'?'GDP per capita':'Unemployment rate (right axis)'"}},"strokeDash":{"field":"s","type":"nominal","title":null,"scale":{"domain":["i","g","u"],"range":[[1,0],[1,0],[6,4]]},"legend":{"orient":"none","legendX":52,"legendY":710,"labelExpr":"datum.label=='i'?'Household disposable income (mean)':datum.label=='g'?'GDP per capita':'Unemployment rate (right axis)'"}}},"layer":[{"transform":[{"filter":"datum.s=='u'"}],"mark":"line","encoding":{"y":{"field":"v","type":"quantitative","title":null,"scale":{"domain":[-2.45,32.45],"nice":false,"zero":false},"axis":null}}},{"transform":[{"filter":"datum.s!='u'"}],"mark":"line","encoding":{"y":{"field":"v","type":"quantitative","title":null,"scale":{"domain":[-24.5,324.5],"nice":false,"zero":false},"axis":{"orient":"left","values":[0,100,200,300],"labels":false,"domain":false,"ticks":false}}}}],"resolve":{"scale":{"y":"independent"}}}]},
  {"title":{"text":"(91%)","anchor":"middle","fontWeight":"normal","align":"left","frame":"bounds","offset":-17,"dx":3.6},"vconcat":[{"title":{"text":"Latvia","align":"right","dx":-0.6},"transform":[{"filter":"datum.c=='LV'"},{"fold":["i","g","u"],"as":["s","v"]}],"encoding":{"x":{"field":"y","type":"quantitative","title":null,"scale":{"domain":[2006.2,2022.8],"nice":false,"zero":false},"axis":null},"color":{"field":"s","type":"nominal","title":null,"scale":{"domain":["i","g","u"],"range":["#e8141c","#000000","#a6a6a6"]},"legend":{"orient":"none","legendX":52,"legendY":710,"labelExpr":"datum.label=='i'?'Household disposable income (mean)':datum.label=='g'?'GDP per capita':'Unemployment rate (right axis)'"}},"strokeDash":{"field":"s","type":"nominal","title":null,"scale":{"domain":["i","g","u"],"range":[[1,0],[1,0],[6,4]]},"legend":{"orient":"none","legendX":52,"legendY":710,"labelExpr":"datum.label=='i'?'Household disposable income (mean)':datum.label=='g'?'GDP per capita':'Unemployment rate (right axis)'"}}},"layer":[{"transform":[{"filter":"datum.s=='u'"}],"mark":"line","encoding":{"y":{"field":"v","type":"quantitative","title":null,"scale":{"domain":[-2.45,32.45],"nice":false,"zero":false},"axis":null}}},{"transform":[{"filter":"datum.s!='u'"}],"mark":"line","encoding":{"y":{"field":"v","type":"quantitative","title":null,"scale":{"domain":[-24.5,324.5],"nice":false,"zero":false},"axis":{"orient":"left","values":[0,100,200,300],"labels":false,"domain":false,"ticks":false}}}}],"resolve":{"scale":{"y":"independent"}}}]},
  {"title":{"text":"(80%)","anchor":"middle","fontWeight":"normal","align":"left","frame":"bounds","offset":-17,"dx":-3.8},"vconcat":[{"title":{"text":"Estonia","align":"right","dx":4.7},"transform":[{"filter":"datum.c=='EE'"},{"fold":["i","g","u"],"as":["s","v"]}],"encoding":{"x":{"field":"y","type":"quantitative","title":null,"scale":{"domain":[2006.2,2022.8],"nice":false,"zero":false},"axis":null},"color":{"field":"s","type":"nominal","title":null,"scale":{"domain":["i","g","u"],"range":["#e8141c","#000000","#a6a6a6"]},"legend":{"orient":"none","legendX":52,"legendY":710,"labelExpr":"datum.label=='i'?'Household disposable income (mean)':datum.label=='g'?'GDP per capita':'Unemployment rate (right axis)'"}},"strokeDash":{"field":"s","type":"nominal","title":null,"scale":{"domain":["i","g","u"],"range":[[1,0],[1,0],[6,4]]},"legend":{"orient":"none","legendX":52,"legendY":710,"labelExpr":"datum.label=='i'?'Household disposable income (mean)':datum.label=='g'?'GDP per capita':'Unemployment rate (right axis)'"}}},"layer":[{"transform":[{"filter":"datum.s=='u'"}],"mark":"line","encoding":{"y":{"field":"v","type":"quantitative","title":null,"scale":{"domain":[-2.45,32.45],"nice":false,"zero":false},"axis":{"orient":"right","values":[0,10,20,30],"grid":false,"tickSize":4,"labelPadding":5}}}},{"transform":[{"filter":"datum.s!='u'"}],"mark":"line","encoding":{"y":{"field":"v","type":"quantitative","title":null,"scale":{"domain":[-24.5,324.5],"nice":false,"zero":false},"axis":{"orient":"left","values":[0,100,200,300],"labels":false,"domain":false,"ticks":false}}}}],"resolve":{"scale":{"y":"independent"}}}]}
 ]}
]},
{"spacing":43,"hconcat":[
 {"spacing":21,"hconcat":[
  {"title":{"text":"(65%)","anchor":"middle","fontWeight":"normal","align":"left","frame":"bounds","offset":-17,"dx":28.4},"vconcat":[{"title":{"text":"Slovakia","align":"right","dx":8.5},"transform":[{"filter":"datum.c=='SK'"},{"fold":["i","g","u"],"as":["s","v"]}],"encoding":{"x":{"field":"y","type":"quantitative","title":null,"scale":{"domain":[2006.2,2022.8],"nice":false,"zero":false},"axis":null},"color":{"field":"s","type":"nominal","title":null,"scale":{"domain":["i","g","u"],"range":["#e8141c","#000000","#a6a6a6"]},"legend":{"orient":"none","legendX":52,"legendY":710,"labelExpr":"datum.label=='i'?'Household disposable income (mean)':datum.label=='g'?'GDP per capita':'Unemployment rate (right axis)'"}},"strokeDash":{"field":"s","type":"nominal","title":null,"scale":{"domain":["i","g","u"],"range":[[1,0],[1,0],[6,4]]},"legend":{"orient":"none","legendX":52,"legendY":710,"labelExpr":"datum.label=='i'?'Household disposable income (mean)':datum.label=='g'?'GDP per capita':'Unemployment rate (right axis)'"}}},"layer":[{"transform":[{"filter":"datum.s=='u'"}],"mark":"line","encoding":{"y":{"field":"v","type":"quantitative","title":null,"scale":{"domain":[-2.45,32.45],"nice":false,"zero":false},"axis":null}}},{"transform":[{"filter":"datum.s!='u'"}],"mark":"line","encoding":{"y":{"field":"v","type":"quantitative","title":null,"scale":{"domain":[-24.5,324.5],"nice":false,"zero":false},"axis":{"orient":"left","values":[0,100,200,300],"ticks":false,"labelPadding":7}}}}],"resolve":{"scale":{"y":"independent"}}}]},
  {"title":{"text":"(60%)","anchor":"middle","fontWeight":"normal","align":"left","frame":"bounds","offset":-17,"dx":2.2},"vconcat":[{"title":{"text":"Malta","align":"right","dx":-2},"transform":[{"filter":"datum.c=='MT'"},{"fold":["i","g","u"],"as":["s","v"]}],"encoding":{"x":{"field":"y","type":"quantitative","title":null,"scale":{"domain":[2006.2,2022.8],"nice":false,"zero":false},"axis":null},"color":{"field":"s","type":"nominal","title":null,"scale":{"domain":["i","g","u"],"range":["#e8141c","#000000","#a6a6a6"]},"legend":{"orient":"none","legendX":52,"legendY":710,"labelExpr":"datum.label=='i'?'Household disposable income (mean)':datum.label=='g'?'GDP per capita':'Unemployment rate (right axis)'"}},"strokeDash":{"field":"s","type":"nominal","title":null,"scale":{"domain":["i","g","u"],"range":[[1,0],[1,0],[6,4]]},"legend":{"orient":"none","legendX":52,"legendY":710,"labelExpr":"datum.label=='i'?'Household disposable income (mean)':datum.label=='g'?'GDP per capita':'Unemployment rate (right axis)'"}}},"layer":[{"transform":[{"filter":"datum.s=='u'"}],"mark":"line","encoding":{"y":{"field":"v","type":"quantitative","title":null,"scale":{"domain":[-2.45,32.45],"nice":false,"zero":false},"axis":null}}},{"transform":[{"filter":"datum.s!='u'"}],"mark":"line","encoding":{"y":{"field":"v","type":"quantitative","title":null,"scale":{"domain":[-24.5,324.5],"nice":false,"zero":false},"axis":{"orient":"left","values":[0,100,200,300],"labels":false,"domain":false,"ticks":false}}}}],"resolve":{"scale":{"y":"independent"}}}]},
  {"title":{"text":"(45%)","anchor":"middle","fontWeight":"normal","align":"left","frame":"bounds","offset":-17,"dx":12.7},"vconcat":[{"title":{"text":"Hungary","align":"right","dx":8.5},"transform":[{"filter":"datum.c=='HU'"},{"fold":["i","g","u"],"as":["s","v"]}],"encoding":{"x":{"field":"y","type":"quantitative","title":null,"scale":{"domain":[2006.2,2022.8],"nice":false,"zero":false},"axis":null},"color":{"field":"s","type":"nominal","title":null,"scale":{"domain":["i","g","u"],"range":["#e8141c","#000000","#a6a6a6"]},"legend":{"orient":"none","legendX":52,"legendY":710,"labelExpr":"datum.label=='i'?'Household disposable income (mean)':datum.label=='g'?'GDP per capita':'Unemployment rate (right axis)'"}},"strokeDash":{"field":"s","type":"nominal","title":null,"scale":{"domain":["i","g","u"],"range":[[1,0],[1,0],[6,4]]},"legend":{"orient":"none","legendX":52,"legendY":710,"labelExpr":"datum.label=='i'?'Household disposable income (mean)':datum.label=='g'?'GDP per capita':'Unemployment rate (right axis)'"}}},"layer":[{"transform":[{"filter":"datum.s=='u'"}],"mark":"line","encoding":{"y":{"field":"v","type":"quantitative","title":null,"scale":{"domain":[-2.45,32.45],"nice":false,"zero":false},"axis":null}}},{"transform":[{"filter":"datum.s!='u'"}],"mark":"line","encoding":{"y":{"field":"v","type":"quantitative","title":null,"scale":{"domain":[-24.5,324.5],"nice":false,"zero":false},"axis":{"orient":"left","values":[0,100,200,300],"labels":false,"domain":false,"ticks":false}}}}],"resolve":{"scale":{"y":"independent"}}}]}
 ]},
 {"spacing":21,"hconcat":[
  {"title":{"text":"(43%)","anchor":"middle","fontWeight":"normal","align":"left","frame":"bounds","offset":-17,"dx":10.8},"vconcat":[{"title":{"text":"Czechia","align":"right","dx":6.6},"transform":[{"filter":"datum.c=='CZ'"},{"fold":["i","g","u"],"as":["s","v"]}],"encoding":{"x":{"field":"y","type":"quantitative","title":null,"scale":{"domain":[2006.2,2022.8],"nice":false,"zero":false},"axis":null},"color":{"field":"s","type":"nominal","title":null,"scale":{"domain":["i","g","u"],"range":["#e8141c","#000000","#a6a6a6"]},"legend":{"orient":"none","legendX":52,"legendY":710,"labelExpr":"datum.label=='i'?'Household disposable income (mean)':datum.label=='g'?'GDP per capita':'Unemployment rate (right axis)'"}},"strokeDash":{"field":"s","type":"nominal","title":null,"scale":{"domain":["i","g","u"],"range":[[1,0],[1,0],[6,4]]},"legend":{"orient":"none","legendX":52,"legendY":710,"labelExpr":"datum.label=='i'?'Household disposable income (mean)':datum.label=='g'?'GDP per capita':'Unemployment rate (right axis)'"}}},"layer":[{"transform":[{"filter":"datum.s=='u'"}],"mark":"line","encoding":{"y":{"field":"v","type":"quantitative","title":null,"scale":{"domain":[-2.45,32.45],"nice":false,"zero":false},"axis":null}}},{"transform":[{"filter":"datum.s!='u'"}],"mark":"line","encoding":{"y":{"field":"v","type":"quantitative","title":null,"scale":{"domain":[-24.5,324.5],"nice":false,"zero":false},"axis":{"orient":"left","values":[0,100,200,300],"labels":false,"domain":false,"ticks":false}}}}],"resolve":{"scale":{"y":"independent"}}}]},
  {"title":{"text":"(29%)","anchor":"middle","fontWeight":"normal","align":"left","frame":"bounds","offset":-17,"dx":8.2},"vconcat":[{"title":{"text":"Croatia","align":"right","dx":4.0},"transform":[{"filter":"datum.c=='HR'"},{"fold":["i","g","u"],"as":["s","v"]}],"encoding":{"x":{"field":"y","type":"quantitative","title":null,"scale":{"domain":[2006.2,2022.8],"nice":false,"zero":false},"axis":null},"color":{"field":"s","type":"nominal","title":null,"scale":{"domain":["i","g","u"],"range":["#e8141c","#000000","#a6a6a6"]},"legend":{"orient":"none","legendX":52,"legendY":710,"labelExpr":"datum.label=='i'?'Household disposable income (mean)':datum.label=='g'?'GDP per capita':'Unemployment rate (right axis)'"}},"strokeDash":{"field":"s","type":"nominal","title":null,"scale":{"domain":["i","g","u"],"range":[[1,0],[1,0],[6,4]]},"legend":{"orient":"none","legendX":52,"legendY":710,"labelExpr":"datum.label=='i'?'Household disposable income (mean)':datum.label=='g'?'GDP per capita':'Unemployment rate (right axis)'"}}},"layer":[{"transform":[{"filter":"datum.s=='u'"}],"mark":"line","encoding":{"y":{"field":"v","type":"quantitative","title":null,"scale":{"domain":[-2.45,32.45],"nice":false,"zero":false},"axis":null}}},{"transform":[{"filter":"datum.s!='u'"}],"mark":"line","encoding":{"y":{"field":"v","type":"quantitative","title":null,"scale":{"domain":[-24.5,324.5],"nice":false,"zero":false},"axis":{"orient":"left","values":[0,100,200,300],"labels":false,"domain":false,"ticks":false}}}}],"resolve":{"scale":{"y":"independent"}}}]},
  {"title":{"text":"(27%)","anchor":"middle","fontWeight":"normal","align":"left","frame":"bounds","offset":-17,"dx":0.2},"vconcat":[{"title":{"text":"Slovenia","align":"right","dx":8.7},"transform":[{"filter":"datum.c=='SI'"},{"fold":["i","g","u"],"as":["s","v"]}],"encoding":{"x":{"field":"y","type":"quantitative","title":null,"scale":{"domain":[2006.2,2022.8],"nice":false,"zero":false},"axis":null},"color":{"field":"s","type":"nominal","title":null,"scale":{"domain":["i","g","u"],"range":["#e8141c","#000000","#a6a6a6"]},"legend":{"orient":"none","legendX":52,"legendY":710,"labelExpr":"datum.label=='i'?'Household disposable income (mean)':datum.label=='g'?'GDP per capita':'Unemployment rate (right axis)'"}},"strokeDash":{"field":"s","type":"nominal","title":null,"scale":{"domain":["i","g","u"],"range":[[1,0],[1,0],[6,4]]},"legend":{"orient":"none","legendX":52,"legendY":710,"labelExpr":"datum.label=='i'?'Household disposable income (mean)':datum.label=='g'?'GDP per capita':'Unemployment rate (right axis)'"}}},"layer":[{"transform":[{"filter":"datum.s=='u'"}],"mark":"line","encoding":{"y":{"field":"v","type":"quantitative","title":null,"scale":{"domain":[-2.45,32.45],"nice":false,"zero":false},"axis":{"orient":"right","values":[0,10,20,30],"grid":false,"tickSize":4,"labelPadding":5}}}},{"transform":[{"filter":"datum.s!='u'"}],"mark":"line","encoding":{"y":{"field":"v","type":"quantitative","title":null,"scale":{"domain":[-24.5,324.5],"nice":false,"zero":false},"axis":{"orient":"left","values":[0,100,200,300],"labels":false,"domain":false,"ticks":false}}}}],"resolve":{"scale":{"y":"independent"}}}]}
 ]}
]},
{"spacing":43,"hconcat":[
 {"spacing":21,"hconcat":[
  {"title":{"text":"(27%)","anchor":"middle","fontWeight":"normal","align":"left","frame":"bounds","offset":-17,"dx":26.2},"vconcat":[{"title":{"text":"Sweden","align":"right","dx":6.3},"transform":[{"filter":"datum.c=='SE'"},{"fold":["i","g","u"],"as":["s","v"]}],"encoding":{"x":{"field":"y","type":"quantitative","title":null,"scale":{"domain":[2006.2,2022.8],"nice":false,"zero":false},"axis":null},"color":{"field":"s","type":"nominal","title":null,"scale":{"domain":["i","g","u"],"range":["#e8141c","#000000","#a6a6a6"]},"legend":{"orient":"none","legendX":52,"legendY":710,"labelExpr":"datum.label=='i'?'Household disposable income (mean)':datum.label=='g'?'GDP per capita':'Unemployment rate (right axis)'"}},"strokeDash":{"field":"s","type":"nominal","title":null,"scale":{"domain":["i","g","u"],"range":[[1,0],[1,0],[6,4]]},"legend":{"orient":"none","legendX":52,"legendY":710,"labelExpr":"datum.label=='i'?'Household disposable income (mean)':datum.label=='g'?'GDP per capita':'Unemployment rate (right axis)'"}}},"layer":[{"transform":[{"filter":"datum.s=='u'"}],"mark":"line","encoding":{"y":{"field":"v","type":"quantitative","title":null,"scale":{"domain":[-2.45,32.45],"nice":false,"zero":false},"axis":null}}},{"transform":[{"filter":"datum.s!='u'"}],"mark":"line","encoding":{"y":{"field":"v","type":"quantitative","title":null,"scale":{"domain":[-24.5,324.5],"nice":false,"zero":false},"axis":{"orient":"left","values":[0,100,200,300],"ticks":false,"labelPadding":7}}}}],"resolve":{"scale":{"y":"independent"}}}]},
  {"title":{"text":"(21%)","anchor":"middle","fontWeight":"normal","align":"left","frame":"bounds","offset":-17,"dx":14.8},"vconcat":[{"title":{"text":"Denmark","align":"right","dx":10.6},"transform":[{"filter":"datum.c=='DK'"},{"fold":["i","g","u"],"as":["s","v"]}],"encoding":{"x":{"field":"y","type":"quantitative","title":null,"scale":{"domain":[2006.2,2022.8],"nice":false,"zero":false},"axis":null},"color":{"field":"s","type":"nominal","title":null,"scale":{"domain":["i","g","u"],"range":["#e8141c","#000000","#a6a6a6"]},"legend":{"orient":"none","legendX":52,"legendY":710,"labelExpr":"datum.label=='i'?'Household disposable income (mean)':datum.label=='g'?'GDP per capita':'Unemployment rate (right axis)'"}},"strokeDash":{"field":"s","type":"nominal","title":null,"scale":{"domain":["i","g","u"],"range":[[1,0],[1,0],[6,4]]},"legend":{"orient":"none","legendX":52,"legendY":710,"labelExpr":"datum.label=='i'?'Household disposable income (mean)':datum.label=='g'?'GDP per capita':'Unemployment rate (right axis)'"}}},"layer":[{"transform":[{"filter":"datum.s=='u'"}],"mark":"line","encoding":{"y":{"field":"v","type":"quantitative","title":null,"scale":{"domain":[-2.45,32.45],"nice":false,"zero":false},"axis":null}}},{"transform":[{"filter":"datum.s!='u'"}],"mark":"line","encoding":{"y":{"field":"v","type":"quantitative","title":null,"scale":{"domain":[-24.5,324.5],"nice":false,"zero":false},"axis":{"orient":"left","values":[0,100,200,300],"labels":false,"domain":false,"ticks":false}}}}],"resolve":{"scale":{"y":"independent"}}}]},
  {"title":{"text":"(18%)","anchor":"middle","fontWeight":"normal","align":"left","frame":"bounds","offset":-17,"dx":26.9},"vconcat":[{"title":{"text":"Netherlands","align":"right","dx":22.7},"transform":[{"filter":"datum.c=='NL'"},{"fold":["i","g","u"],"as":["s","v"]}],"encoding":{"x":{"field":"y","type":"quantitative","title":null,"scale":{"domain":[2006.2,2022.8],"nice":false,"zero":false},"axis":null},"color":{"field":"s","type":"nominal","title":null,"scale":{"domain":["i","g","u"],"range":["#e8141c","#000000","#a6a6a6"]},"legend":{"orient":"none","legendX":52,"legendY":710,"labelExpr":"datum.label=='i'?'Household disposable income (mean)':datum.label=='g'?'GDP per capita':'Unemployment rate (right axis)'"}},"strokeDash":{"field":"s","type":"nominal","title":null,"scale":{"domain":["i","g","u"],"range":[[1,0],[1,0],[6,4]]},"legend":{"orient":"none","legendX":52,"legendY":710,"labelExpr":"datum.label=='i'?'Household disposable income (mean)':datum.label=='g'?'GDP per capita':'Unemployment rate (right axis)'"}}},"layer":[{"transform":[{"filter":"datum.s=='u'"}],"mark":"line","encoding":{"y":{"field":"v","type":"quantitative","title":null,"scale":{"domain":[-2.45,32.45],"nice":false,"zero":false},"axis":null}}},{"transform":[{"filter":"datum.s!='u'"}],"mark":"line","encoding":{"y":{"field":"v","type":"quantitative","title":null,"scale":{"domain":[-24.5,324.5],"nice":false,"zero":false},"axis":{"orient":"left","values":[0,100,200,300],"labels":false,"domain":false,"ticks":false}}}}],"resolve":{"scale":{"y":"independent"}}}]}
 ]},
 {"spacing":21,"hconcat":[
  {"title":{"text":"(17%)","anchor":"middle","fontWeight":"normal","align":"left","frame":"bounds","offset":-17,"dx":14.9},"vconcat":[{"title":{"text":"Germany","align":"right","dx":10.7},"transform":[{"filter":"datum.c=='DE'"},{"fold":["i","g","u"],"as":["s","v"]}],"encoding":{"x":{"field":"y","type":"quantitative","title":null,"scale":{"domain":[2006.2,2022.8],"nice":false,"zero":false},"axis":null},"color":{"field":"s","type":"nominal","title":null,"scale":{"domain":["i","g","u"],"range":["#e8141c","#000000","#a6a6a6"]},"legend":{"orient":"none","legendX":52,"legendY":710,"labelExpr":"datum.label=='i'?'Household disposable income (mean)':datum.label=='g'?'GDP per capita':'Unemployment rate (right axis)'"}},"strokeDash":{"field":"s","type":"nominal","title":null,"scale":{"domain":["i","g","u"],"range":[[1,0],[1,0],[6,4]]},"legend":{"orient":"none","legendX":52,"legendY":710,"labelExpr":"datum.label=='i'?'Household disposable income (mean)':datum.label=='g'?'GDP per capita':'Unemployment rate (right axis)'"}}},"layer":[{"transform":[{"filter":"datum.s=='u'"}],"mark":"line","encoding":{"y":{"field":"v","type":"quantitative","title":null,"scale":{"domain":[-2.45,32.45],"nice":false,"zero":false},"axis":null}}},{"transform":[{"filter":"datum.s!='u'"}],"mark":"line","encoding":{"y":{"field":"v","type":"quantitative","title":null,"scale":{"domain":[-24.5,324.5],"nice":false,"zero":false},"axis":{"orient":"left","values":[0,100,200,300],"labels":false,"domain":false,"ticks":false}}}}],"resolve":{"scale":{"y":"independent"}}}]},
  {"title":{"text":"(17%)","anchor":"middle","fontWeight":"normal","align":"left","frame":"bounds","offset":-17,"dx":1.9},"vconcat":[{"title":{"text":"Spain","align":"right","dx":-2.3},"transform":[{"filter":"datum.c=='ES'"},{"fold":["i","g","u"],"as":["s","v"]}],"encoding":{"x":{"field":"y","type":"quantitative","title":null,"scale":{"domain":[2006.2,2022.8],"nice":false,"zero":false},"axis":null},"color":{"field":"s","type":"nominal","title":null,"scale":{"domain":["i","g","u"],"range":["#e8141c","#000000","#a6a6a6"]},"legend":{"orient":"none","legendX":52,"legendY":710,"labelExpr":"datum.label=='i'?'Household disposable income (mean)':datum.label=='g'?'GDP per capita':'Unemployment rate (right axis)'"}},"strokeDash":{"field":"s","type":"nominal","title":null,"scale":{"domain":["i","g","u"],"range":[[1,0],[1,0],[6,4]]},"legend":{"orient":"none","legendX":52,"legendY":710,"labelExpr":"datum.label=='i'?'Household disposable income (mean)':datum.label=='g'?'GDP per capita':'Unemployment rate (right axis)'"}}},"layer":[{"transform":[{"filter":"datum.s=='u'"}],"mark":"line","encoding":{"y":{"field":"v","type":"quantitative","title":null,"scale":{"domain":[-2.45,32.45],"nice":false,"zero":false},"axis":null}}},{"transform":[{"filter":"datum.s!='u'"}],"mark":"line","encoding":{"y":{"field":"v","type":"quantitative","title":null,"scale":{"domain":[-24.5,324.5],"nice":false,"zero":false},"axis":{"orient":"left","values":[0,100,200,300],"labels":false,"domain":false,"ticks":false}}}}],"resolve":{"scale":{"y":"independent"}}}]},
  {"title":{"text":"(17%)","anchor":"middle","fontWeight":"normal","align":"left","frame":"bounds","offset":-17,"dx":-1.0},"vconcat":[{"title":{"text":"Belgium","align":"right","dx":7.5},"transform":[{"filter":"datum.c=='BE'"},{"fold":["i","g","u"],"as":["s","v"]}],"encoding":{"x":{"field":"y","type":"quantitative","title":null,"scale":{"domain":[2006.2,2022.8],"nice":false,"zero":false},"axis":null},"color":{"field":"s","type":"nominal","title":null,"scale":{"domain":["i","g","u"],"range":["#e8141c","#000000","#a6a6a6"]},"legend":{"orient":"none","legendX":52,"legendY":710,"labelExpr":"datum.label=='i'?'Household disposable income (mean)':datum.label=='g'?'GDP per capita':'Unemployment rate (right axis)'"}},"strokeDash":{"field":"s","type":"nominal","title":null,"scale":{"domain":["i","g","u"],"range":[[1,0],[1,0],[6,4]]},"legend":{"orient":"none","legendX":52,"legendY":710,"labelExpr":"datum.label=='i'?'Household disposable income (mean)':datum.label=='g'?'GDP per capita':'Unemployment rate (right axis)'"}}},"layer":[{"transform":[{"filter":"datum.s=='u'"}],"mark":"line","encoding":{"y":{"field":"v","type":"quantitative","title":null,"scale":{"domain":[-2.45,32.45],"nice":false,"zero":false},"axis":{"orient":"right","values":[0,10,20,30],"grid":false,"tickSize":4,"labelPadding":5}}}},{"transform":[{"filter":"datum.s!='u'"}],"mark":"line","encoding":{"y":{"field":"v","type":"quantitative","title":null,"scale":{"domain":[-24.5,324.5],"nice":false,"zero":false},"axis":{"orient":"left","values":[0,100,200,300],"labels":false,"domain":false,"ticks":false}}}}],"resolve":{"scale":{"y":"independent"}}}]}
 ]}
]},
{"spacing":43,"hconcat":[
 {"spacing":21,"hconcat":[
  {"title":{"text":"(16%)","anchor":"middle","fontWeight":"normal","align":"left","frame":"bounds","offset":-17,"dx":22.4},"vconcat":[{"title":{"text":"Ireland","align":"right","dx":2.5},"transform":[{"filter":"datum.c=='IE'"},{"fold":["i","g","u"],"as":["s","v"]}],"encoding":{"x":{"field":"y","type":"quantitative","title":null,"scale":{"domain":[2006.2,2022.8],"nice":false,"zero":false},"axis":null},"color":{"field":"s","type":"nominal","title":null,"scale":{"domain":["i","g","u"],"range":["#e8141c","#000000","#a6a6a6"]},"legend":{"orient":"none","legendX":52,"legendY":710,"labelExpr":"datum.label=='i'?'Household disposable income (mean)':datum.label=='g'?'GDP per capita':'Unemployment rate (right axis)'"}},"strokeDash":{"field":"s","type":"nominal","title":null,"scale":{"domain":["i","g","u"],"range":[[1,0],[1,0],[6,4]]},"legend":{"orient":"none","legendX":52,"legendY":710,"labelExpr":"datum.label=='i'?'Household disposable income (mean)':datum.label=='g'?'GDP per capita':'Unemployment rate (right axis)'"}}},"layer":[{"transform":[{"filter":"datum.s=='u'"}],"mark":"line","encoding":{"y":{"field":"v","type":"quantitative","title":null,"scale":{"domain":[-2.45,32.45],"nice":false,"zero":false},"axis":null}}},{"transform":[{"filter":"datum.s!='u'"}],"mark":"line","encoding":{"y":{"field":"v","type":"quantitative","title":null,"scale":{"domain":[-24.5,324.5],"nice":false,"zero":false},"axis":{"orient":"left","values":[0,100,200,300],"ticks":false,"labelPadding":7}}}}],"resolve":{"scale":{"y":"independent"}}}]},
  {"title":{"text":"(16%)","anchor":"middle","fontWeight":"normal","align":"left","frame":"bounds","offset":-17,"dx":6.5},"vconcat":[{"title":{"text":"France","align":"right","dx":2.3},"transform":[{"filter":"datum.c=='FR'"},{"fold":["i","g","u"],"as":["s","v"]}],"encoding":{"x":{"field":"y","type":"quantitative","title":null,"scale":{"domain":[2006.2,2022.8],"nice":false,"zero":false},"axis":null},"color":{"field":"s","type":"nominal","title":null,"scale":{"domain":["i","g","u"],"range":["#e8141c","#000000","#a6a6a6"]},"legend":{"orient":"none","legendX":52,"legendY":710,"labelExpr":"datum.label=='i'?'Household disposable income (mean)':datum.label=='g'?'GDP per capita':'Unemployment rate (right axis)'"}},"strokeDash":{"field":"s","type":"nominal","title":null,"scale":{"domain":["i","g","u"],"range":[[1,0],[1,0],[6,4]]},"legend":{"orient":"none","legendX":52,"legendY":710,"labelExpr":"datum.label=='i'?'Household disposable income (mean)':datum.label=='g'?'GDP per capita':'Unemployment rate (right axis)'"}}},"layer":[{"transform":[{"filter":"datum.s=='u'"}],"mark":"line","encoding":{"y":{"field":"v","type":"quantitative","title":null,"scale":{"domain":[-2.45,32.45],"nice":false,"zero":false},"axis":null}}},{"transform":[{"filter":"datum.s!='u'"}],"mark":"line","encoding":{"y":{"field":"v","type":"quantitative","title":null,"scale":{"domain":[-24.5,324.5],"nice":false,"zero":false},"axis":{"orient":"left","values":[0,100,200,300],"labels":false,"domain":false,"ticks":false}}}}],"resolve":{"scale":{"y":"independent"}}}]},
  {"title":{"text":"(13%)","anchor":"middle","fontWeight":"normal","align":"left","frame":"bounds","offset":-17,"dx":8.0},"vconcat":[{"title":{"text":"Austria","align":"right","dx":3.8},"transform":[{"filter":"datum.c=='AT'"},{"fold":["i","g","u"],"as":["s","v"]}],"encoding":{"x":{"field":"y","type":"quantitative","title":null,"scale":{"domain":[2006.2,2022.8],"nice":false,"zero":false},"axis":null},"color":{"field":"s","type":"nominal","title":null,"scale":{"domain":["i","g","u"],"range":["#e8141c","#000000","#a6a6a6"]},"legend":{"orient":"none","legendX":52,"legendY":710,"labelExpr":"datum.label=='i'?'Household disposable income (mean)':datum.label=='g'?'GDP per capita':'Unemployment rate (right axis)'"}},"strokeDash":{"field":"s","type":"nominal","title":null,"scale":{"domain":["i","g","u"],"range":[[1,0],[1,0],[6,4]]},"legend":{"orient":"none","legendX":52,"legendY":710,"labelExpr":"datum.label=='i'?'Household disposable income (mean)':datum.label=='g'?'GDP per capita':'Unemployment rate (right axis)'"}}},"layer":[{"transform":[{"filter":"datum.s=='u'"}],"mark":"line","encoding":{"y":{"field":"v","type":"quantitative","title":null,"scale":{"domain":[-2.45,32.45],"nice":false,"zero":false},"axis":null}}},{"transform":[{"filter":"datum.s!='u'"}],"mark":"line","encoding":{"y":{"field":"v","type":"quantitative","title":null,"scale":{"domain":[-24.5,324.5],"nice":false,"zero":false},"axis":{"orient":"left","values":[0,100,200,300],"labels":false,"domain":false,"ticks":false}}}}],"resolve":{"scale":{"y":"independent"}}}]}
 ]},
 {"spacing":21,"hconcat":[
  {"title":{"text":"(12%)","anchor":"middle","fontWeight":"normal","align":"left","frame":"bounds","offset":-17,"dx":8.4},"vconcat":[{"title":{"text":"Finland","align":"right","dx":4.2},"transform":[{"filter":"datum.c=='FI'"},{"fold":["i","g","u"],"as":["s","v"]}],"encoding":{"x":{"field":"y","type":"quantitative","title":null,"scale":{"domain":[2006.2,2022.8],"nice":false,"zero":false},"axis":{"values":[2008,2012,2016,2020],"format":"d","grid":false,"tickSize":6,"labelPadding":2,"labelFlush":false}},"color":{"field":"s","type":"nominal","title":null,"scale":{"domain":["i","g","u"],"range":["#e8141c","#000000","#a6a6a6"]},"legend":{"orient":"none","legendX":52,"legendY":710,"labelExpr":"datum.label=='i'?'Household disposable income (mean)':datum.label=='g'?'GDP per capita':'Unemployment rate (right axis)'"}},"strokeDash":{"field":"s","type":"nominal","title":null,"scale":{"domain":["i","g","u"],"range":[[1,0],[1,0],[6,4]]},"legend":{"orient":"none","legendX":52,"legendY":710,"labelExpr":"datum.label=='i'?'Household disposable income (mean)':datum.label=='g'?'GDP per capita':'Unemployment rate (right axis)'"}}},"layer":[{"transform":[{"filter":"datum.s=='u'"}],"mark":"line","encoding":{"y":{"field":"v","type":"quantitative","title":null,"scale":{"domain":[-2.45,32.45],"nice":false,"zero":false},"axis":null}}},{"transform":[{"filter":"datum.s!='u'"}],"mark":"line","encoding":{"y":{"field":"v","type":"quantitative","title":null,"scale":{"domain":[-24.5,324.5],"nice":false,"zero":false},"axis":{"orient":"left","values":[0,100,200,300],"labels":false,"domain":false,"ticks":false}}}}],"resolve":{"scale":{"y":"independent"}}}]},
  {"title":{"text":"(12%)","anchor":"middle","fontWeight":"normal","align":"left","frame":"bounds","offset":-17,"dx":12.9},"vconcat":[{"title":{"text":"Portugal","align":"right","dx":8.7},"transform":[{"filter":"datum.c=='PT'"},{"fold":["i","g","u"],"as":["s","v"]}],"encoding":{"x":{"field":"y","type":"quantitative","title":null,"scale":{"domain":[2006.2,2022.8],"nice":false,"zero":false},"axis":{"values":[2008,2012,2016,2020],"format":"d","grid":false,"tickSize":6,"labelPadding":2,"labelFlush":false}},"color":{"field":"s","type":"nominal","title":null,"scale":{"domain":["i","g","u"],"range":["#e8141c","#000000","#a6a6a6"]},"legend":{"orient":"none","legendX":52,"legendY":710,"labelExpr":"datum.label=='i'?'Household disposable income (mean)':datum.label=='g'?'GDP per capita':'Unemployment rate (right axis)'"}},"strokeDash":{"field":"s","type":"nominal","title":null,"scale":{"domain":["i","g","u"],"range":[[1,0],[1,0],[6,4]]},"legend":{"orient":"none","legendX":52,"legendY":710,"labelExpr":"datum.label=='i'?'Household disposable income (mean)':datum.label=='g'?'GDP per capita':'Unemployment rate (right axis)'"}}},"layer":[{"transform":[{"filter":"datum.s=='u'"}],"mark":"line","encoding":{"y":{"field":"v","type":"quantitative","title":null,"scale":{"domain":[-2.45,32.45],"nice":false,"zero":false},"axis":null}}},{"transform":[{"filter":"datum.s!='u'"}],"mark":"line","encoding":{"y":{"field":"v","type":"quantitative","title":null,"scale":{"domain":[-24.5,324.5],"nice":false,"zero":false},"axis":{"orient":"left","values":[0,100,200,300],"labels":false,"domain":false,"ticks":false}}}}],"resolve":{"scale":{"y":"independent"}}}]},
  {"title":{"text":"(11%)","anchor":"middle","fontWeight":"normal","align":"left","frame":"bounds","offset":-17,"dx":15.5},"vconcat":[{"title":{"text":"Luxembourg","align":"right","dx":24},"transform":[{"filter":"datum.c=='LU'"},{"fold":["i","g","u"],"as":["s","v"]}],"encoding":{"x":{"field":"y","type":"quantitative","title":null,"scale":{"domain":[2006.2,2022.8],"nice":false,"zero":false},"axis":{"values":[2008,2012,2016,2020],"format":"d","grid":false,"tickSize":6,"labelPadding":2,"labelFlush":false}},"color":{"field":"s","type":"nominal","title":null,"scale":{"domain":["i","g","u"],"range":["#e8141c","#000000","#a6a6a6"]},"legend":{"orient":"none","legendX":52,"legendY":710,"labelExpr":"datum.label=='i'?'Household disposable income (mean)':datum.label=='g'?'GDP per capita':'Unemployment rate (right axis)'"}},"strokeDash":{"field":"s","type":"nominal","title":null,"scale":{"domain":["i","g","u"],"range":[[1,0],[1,0],[6,4]]},"legend":{"orient":"none","legendX":52,"legendY":710,"labelExpr":"datum.label=='i'?'Household disposable income (mean)':datum.label=='g'?'GDP per capita':'Unemployment rate (right axis)'"}}},"layer":[{"transform":[{"filter":"datum.s=='u'"}],"mark":"line","encoding":{"y":{"field":"v","type":"quantitative","title":null,"scale":{"domain":[-2.45,32.45],"nice":false,"zero":false},"axis":{"orient":"right","values":[0,10,20,30],"grid":false,"tickSize":4,"labelPadding":5}}}},{"transform":[{"filter":"datum.s!='u'"}],"mark":"line","encoding":{"y":{"field":"v","type":"quantitative","title":null,"scale":{"domain":[-24.5,324.5],"nice":false,"zero":false},"axis":{"orient":"left","values":[0,100,200,300],"labels":false,"domain":false,"ticks":false}}}}],"resolve":{"scale":{"y":"independent"}}}]}
 ]}
]},
{"spacing":43,"hconcat":[
 {"spacing":21,"hconcat":[
  {"title":{"text":"(1%)","anchor":"middle","fontWeight":"normal","align":"left","frame":"bounds","offset":-17,"dx":17.1},"vconcat":[{"title":{"text":"Italy","align":"right","dx":-2.8},"transform":[{"filter":"datum.c=='IT'"},{"fold":["i","g","u"],"as":["s","v"]}],"encoding":{"x":{"field":"y","type":"quantitative","title":null,"scale":{"domain":[2006.2,2022.8],"nice":false,"zero":false},"axis":{"values":[2008,2012,2016,2020],"format":"d","grid":false,"tickSize":6,"labelPadding":2,"labelFlush":false}},"color":{"field":"s","type":"nominal","title":null,"scale":{"domain":["i","g","u"],"range":["#e8141c","#000000","#a6a6a6"]},"legend":{"orient":"none","legendX":52,"legendY":710,"labelExpr":"datum.label=='i'?'Household disposable income (mean)':datum.label=='g'?'GDP per capita':'Unemployment rate (right axis)'"}},"strokeDash":{"field":"s","type":"nominal","title":null,"scale":{"domain":["i","g","u"],"range":[[1,0],[1,0],[6,4]]},"legend":{"orient":"none","legendX":52,"legendY":710,"labelExpr":"datum.label=='i'?'Household disposable income (mean)':datum.label=='g'?'GDP per capita':'Unemployment rate (right axis)'"}}},"layer":[{"transform":[{"filter":"datum.s=='u'"}],"mark":"line","encoding":{"y":{"field":"v","type":"quantitative","title":null,"scale":{"domain":[-2.45,32.45],"nice":false,"zero":false},"axis":null}}},{"transform":[{"filter":"datum.s!='u'"}],"mark":"line","encoding":{"y":{"field":"v","type":"quantitative","title":null,"scale":{"domain":[-24.5,324.5],"nice":false,"zero":false},"axis":{"orient":"left","values":[0,100,200,300],"ticks":false,"labelPadding":7}}}}],"resolve":{"scale":{"y":"independent"}}}]},
  {"title":{"text":"(-5%)","anchor":"middle","fontWeight":"normal","align":"left","frame":"bounds","offset":-17,"dx":9.5},"vconcat":[{"title":{"text":"Cyprus","align":"right","dx":5.3},"transform":[{"filter":"datum.c=='CY'"},{"fold":["i","g","u"],"as":["s","v"]}],"encoding":{"x":{"field":"y","type":"quantitative","title":null,"scale":{"domain":[2006.2,2022.8],"nice":false,"zero":false},"axis":{"values":[2008,2012,2016,2020],"format":"d","grid":false,"tickSize":6,"labelPadding":2,"labelFlush":false}},"color":{"field":"s","type":"nominal","title":null,"scale":{"domain":["i","g","u"],"range":["#e8141c","#000000","#a6a6a6"]},"legend":{"orient":"none","legendX":52,"legendY":710,"labelExpr":"datum.label=='i'?'Household disposable income (mean)':datum.label=='g'?'GDP per capita':'Unemployment rate (right axis)'"}},"strokeDash":{"field":"s","type":"nominal","title":null,"scale":{"domain":["i","g","u"],"range":[[1,0],[1,0],[6,4]]},"legend":{"orient":"none","legendX":52,"legendY":710,"labelExpr":"datum.label=='i'?'Household disposable income (mean)':datum.label=='g'?'GDP per capita':'Unemployment rate (right axis)'"}}},"layer":[{"transform":[{"filter":"datum.s=='u'"}],"mark":"line","encoding":{"y":{"field":"v","type":"quantitative","title":null,"scale":{"domain":[-2.45,32.45],"nice":false,"zero":false},"axis":null}}},{"transform":[{"filter":"datum.s!='u'"}],"mark":"line","encoding":{"y":{"field":"v","type":"quantitative","title":null,"scale":{"domain":[-24.5,324.5],"nice":false,"zero":false},"axis":{"orient":"left","values":[0,100,200,300],"labels":false,"domain":false,"ticks":false}}}}],"resolve":{"scale":{"y":"independent"}}}]},
  {"title":{"text":"(-22%)","anchor":"middle","fontWeight":"normal","align":"left","frame":"bounds","offset":-17,"dx":-7.9},"vconcat":[{"title":{"text":"Greece","align":"right","dx":0.6},"transform":[{"filter":"datum.c=='GR'"},{"fold":["i","g","u"],"as":["s","v"]}],"encoding":{"x":{"field":"y","type":"quantitative","title":null,"scale":{"domain":[2006.2,2022.8],"nice":false,"zero":false},"axis":{"values":[2008,2012,2016,2020],"format":"d","grid":false,"tickSize":6,"labelPadding":2,"labelFlush":false}},"color":{"field":"s","type":"nominal","title":null,"scale":{"domain":["i","g","u"],"range":["#e8141c","#000000","#a6a6a6"]},"legend":{"orient":"none","legendX":52,"legendY":710,"labelExpr":"datum.label=='i'?'Household disposable income (mean)':datum.label=='g'?'GDP per capita':'Unemployment rate (right axis)'"}},"strokeDash":{"field":"s","type":"nominal","title":null,"scale":{"domain":["i","g","u"],"range":[[1,0],[1,0],[6,4]]},"legend":{"orient":"none","legendX":52,"legendY":710,"labelExpr":"datum.label=='i'?'Household disposable income (mean)':datum.label=='g'?'GDP per capita':'Unemployment rate (right axis)'"}}},"layer":[{"transform":[{"filter":"datum.s=='u'"}],"mark":"line","encoding":{"y":{"field":"v","type":"quantitative","title":null,"scale":{"domain":[-2.45,32.45],"nice":false,"zero":false},"axis":{"orient":"right","values":[0,10,20,30],"grid":false,"tickSize":4,"labelPadding":5}}}},{"transform":[{"filter":"datum.s!='u'"}],"mark":"line","encoding":{"y":{"field":"v","type":"quantitative","title":null,"scale":{"domain":[-24.5,324.5],"nice":false,"zero":false},"axis":{"orient":"left","values":[0,100,200,300],"labels":false,"domain":false,"ticks":false}}}}],"resolve":{"scale":{"y":"independent"}}}]}
 ]}
]}
],
"config":{
 "font":"Roboto",
 "view":{"continuousWidth":159,"continuousHeight":95,"stroke":null},
 "line":{"strokeWidth":1.6},
 "title":{"font":"Roboto","fontSize":17,"fontWeight":"bold","color":"#111111","anchor":"middle","frame":"group","offset":6,"baseline":"bottom"},
 "axis":{"labelFont":"Roboto","labelFontSize":14.5,"labelColor":"#222222","gridColor":"#c6c6c6","gridWidth":1.5,"domainColor":"#a8a8a8","domainWidth":1.5,"tickColor":"#a8a8a8","tickWidth":1.5},
 "legend":{"direction":"horizontal","symbolType":"stroke","symbolSize":1369,"symbolStrokeWidth":2.5,"labelFont":"Roboto","labelFontSize":20,"labelColor":"#222222","labelLimit":600,"columnPadding":50,"labelOffset":8,"padding":0}
}
}
